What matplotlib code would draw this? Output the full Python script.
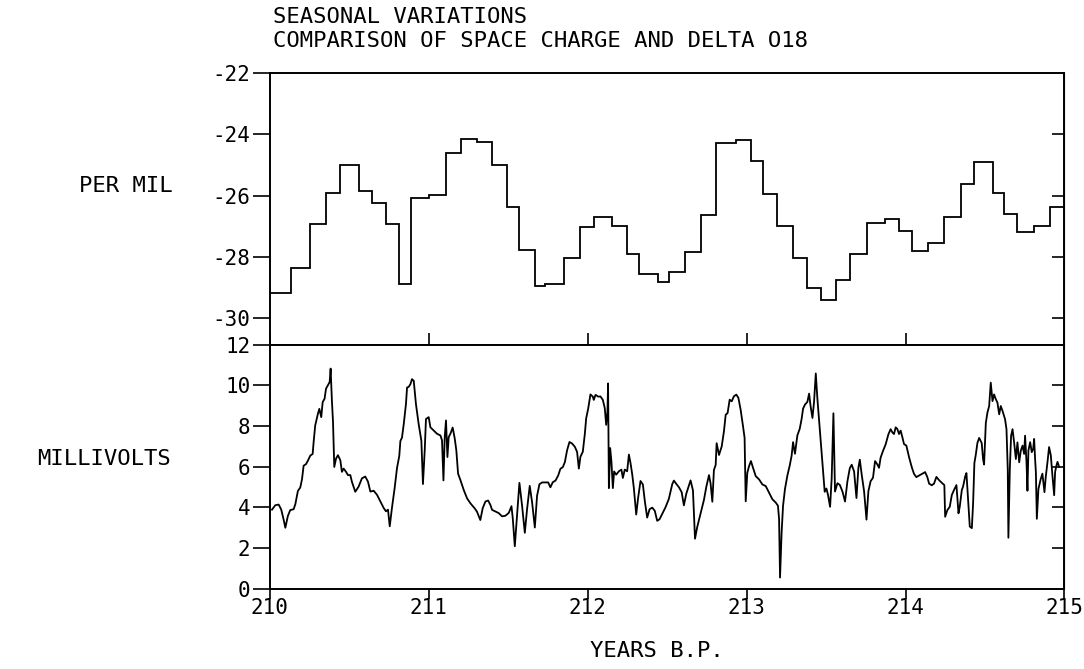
import numpy as np
import matplotlib
matplotlib.use("Agg")
import matplotlib.pyplot as plt

plt.rcParams['font.family'] = ['DejaVu Sans Mono']
plt.rcParams['axes.unicode_minus'] = False

# delta O18 (per mil), step values between sample edges (years B.P.)
delta_edges = [210.00, 210.13, 210.25, 210.35, 210.44, 210.56, 210.64, 210.73, 210.81, 210.89,
               211.00, 211.11, 211.20, 211.30, 211.40, 211.49, 211.57, 211.67, 211.73, 211.85,
               211.95, 212.04, 212.15, 212.25, 212.32, 212.44, 212.51, 212.61, 212.71, 212.81,
               212.93, 213.03, 213.10, 213.19, 213.29, 213.38, 213.47, 213.56, 213.65, 213.76,
               213.87, 213.96, 214.04, 214.14, 214.24, 214.35, 214.43, 214.55, 214.62, 214.70,
               214.81, 214.91, 215.00]
delta_values = [-29.17, -28.36, -26.93, -25.91, -25.01, -25.84, -26.25, -26.93, -28.88, -26.07,
                -25.98, -24.61, -24.14, -24.26, -25.00, -26.38, -27.79, -28.95, -28.87, -28.03,
                -27.04, -26.70, -27.01, -27.91, -28.57, -28.82, -28.49, -27.84, -26.64, -24.30,
                -24.20, -24.88, -25.96, -27.01, -28.05, -29.01, -29.41, -28.77, -27.90, -26.90,
                -26.76, -27.17, -27.80, -27.55, -26.69, -25.62, -24.89, -25.91, -26.61, -27.18,
                -26.98, -26.39]

# space charge (millivolts)
mv_years = [
    210.013, 210.034, 210.055, 210.071, 210.086, 210.097, 210.113, 210.128, 210.149, 210.160,
    210.176, 210.191, 210.202, 210.212, 210.227, 210.239, 210.254, 210.269, 210.275, 210.285,
    210.302, 210.311, 210.323, 210.332, 210.344, 210.353, 210.365, 210.376, 210.382, 210.390,
    210.397, 210.405, 210.416, 210.428, 210.443, 210.453, 210.464, 210.479, 210.491, 210.506,
    210.516, 210.537, 210.558, 210.579, 210.600, 210.617, 210.632, 210.653, 210.674, 210.695,
    210.716, 210.730, 210.743, 210.754, 210.768, 210.785, 210.800, 210.814, 210.821, 210.831,
    210.842, 210.856, 210.863, 210.873, 210.884, 210.894, 210.905, 210.919, 210.936, 210.953,
    210.963, 210.974, 210.982, 210.999, 211.010, 211.031, 211.052, 211.073, 211.083, 211.092,
    211.100, 211.108, 211.117, 211.125, 211.136, 211.150, 211.163, 211.173, 211.184, 211.199,
    211.220, 211.241, 211.262,
    211.289, 211.303, 211.324, 211.339, 211.356, 211.373, 211.387, 211.398, 211.419, 211.440,
    211.461, 211.482, 211.503, 211.520, 211.528, 211.541, 211.555, 211.570, 211.587, 211.604,
    211.618, 211.635, 211.650, 211.667, 211.681, 211.696, 211.713, 211.734, 211.751, 211.765,
    211.780, 211.797, 211.814, 211.828, 211.843, 211.856, 211.870, 211.885, 211.902, 211.919,
    211.933, 211.944, 211.954, 211.969, 211.982, 211.990, 212.003, 212.017, 212.032, 212.038,
    212.049, 212.066, 212.080, 212.095, 212.107, 212.116, 212.124, 212.128, 212.133, 212.141,
    212.149, 212.158, 212.166, 212.179, 212.196, 212.212, 212.221, 212.233, 212.248, 212.259,
    212.269, 212.280, 212.290, 212.305, 212.317, 212.332, 212.347, 212.359, 212.374, 212.389,
    212.406, 212.422, 212.437, 212.452, 212.468, 212.489, 212.510,
    212.532, 212.542, 212.557, 212.574, 212.591, 212.605, 212.620, 212.637, 212.647, 212.662,
    212.675, 212.689, 212.710, 212.731, 212.746, 212.763, 212.773, 212.784, 212.794, 212.805,
    212.811, 212.826, 212.843, 212.857, 212.868, 212.880, 212.893, 212.906, 212.920, 212.935,
    212.948, 212.962, 212.977, 212.987, 212.994, 213.004, 213.015, 213.027, 213.040, 213.057,
    213.078, 213.099, 213.120, 213.141, 213.162, 213.183, 213.197, 213.204, 213.210, 213.220,
    213.229, 213.241, 213.256, 213.271, 213.283, 213.292, 213.304, 213.319, 213.334, 213.346,
    213.355, 213.367, 213.382, 213.393, 213.403, 213.414, 213.424, 213.435, 213.445, 213.460,
    213.477, 213.491, 213.502, 213.512, 213.525, 213.535, 213.546, 213.556, 213.571, 213.586,
    213.603, 213.619, 213.634, 213.649, 213.661, 213.676, 213.691, 213.703, 213.712, 213.724,
    213.739, 213.754,
    213.766, 213.780, 213.795, 213.808, 213.822, 213.833, 213.843, 213.858, 213.875, 213.892,
    213.906, 213.917, 213.927, 213.938, 213.948, 213.959, 213.969, 213.980, 213.990, 214.005,
    214.022, 214.039, 214.053, 214.068, 214.085, 214.106, 214.123, 214.137, 214.148, 214.165,
    214.179, 214.194, 214.211, 214.232, 214.244, 214.249, 214.263, 214.278, 214.291, 214.305,
    214.320, 214.333, 214.341, 214.354, 214.362, 214.375, 214.383, 214.396, 214.404, 214.417,
    214.425, 214.433, 214.442, 214.452, 214.463, 214.479, 214.488, 214.494, 214.505, 214.515,
    214.526, 214.536, 214.547, 214.557, 214.568, 214.578, 214.589, 214.599, 214.610, 214.626,
    214.635, 214.643, 214.647, 214.656, 214.664, 214.673, 214.683, 214.694, 214.704, 214.715,
    214.725, 214.736, 214.746, 214.752, 214.761, 214.767, 214.773, 214.784, 214.794, 214.803,
    214.809, 214.815, 214.820, 214.826, 214.836, 214.851, 214.861, 214.874, 214.882, 214.893,
    214.903, 214.914, 214.924, 214.935, 214.941, 214.950, 214.956, 214.966,
]
mv_values = [
    3.89, 4.11, 4.14, 3.90, 3.41, 3.00, 3.58, 3.87, 3.91, 4.16,
    4.81, 4.98, 5.39, 6.05, 6.13, 6.30, 6.55, 6.63, 7.21, 8.03,
    8.61, 8.85, 8.44, 9.18, 9.35, 9.84, 10.01, 10.17, 10.83, 9.27,
    8.21, 5.99, 6.40, 6.57, 6.32, 5.75, 5.91, 5.75, 5.59, 5.59,
    5.26, 4.77, 5.02, 5.43, 5.52, 5.27, 4.78, 4.82, 4.62, 4.30,
    3.97, 3.81, 3.89, 3.07, 3.98, 4.96, 5.95, 6.53, 7.27, 7.43,
    8.09, 9.08, 9.90, 9.93, 10.06, 10.31, 10.23, 9.08, 8.10, 7.28,
    5.15, 6.79, 8.35, 8.44, 7.94, 7.78, 7.62, 7.54, 7.30, 5.33,
    7.46, 8.28, 6.48, 7.46, 7.63, 7.93, 7.39, 6.81, 5.66, 5.34,
    4.85, 4.44, 4.20,
    3.95, 3.79, 3.38, 3.96, 4.29, 4.34, 4.13, 3.88, 3.80, 3.72,
    3.56, 3.59, 3.73, 4.06, 3.48, 2.09, 3.57, 5.21, 4.07, 2.75,
    3.90, 5.06, 4.24, 3.01, 4.57, 5.14, 5.23, 5.23, 5.23, 4.99,
    5.24, 5.32, 5.57, 5.90, 5.98, 6.23, 6.81, 7.22, 7.14, 6.98,
    6.73, 5.91, 6.49, 6.74, 7.64, 8.38, 8.87, 9.56, 9.45, 9.29,
    9.54, 9.45, 9.46, 9.29, 8.89, 8.06, 8.72, 10.10, 4.95, 6.92,
    6.26, 4.95, 5.77, 5.61, 5.78, 5.86, 5.45, 5.86, 5.78, 6.60,
    6.19, 5.62, 4.96, 3.65, 4.47, 5.30, 5.13, 4.32, 3.50, 3.91,
    3.99, 3.83, 3.34, 3.42, 3.67, 4.00, 4.41,
    5.15, 5.32, 5.16, 4.99, 4.75, 4.10, 4.67, 5.08, 5.33, 4.84,
    2.46, 3.04, 3.70, 4.36, 5.01, 5.59, 5.18, 4.28, 5.84, 6.09,
    7.16, 6.58, 7.00, 7.74, 8.56, 8.64, 9.30, 9.22, 9.47, 9.55,
    9.39, 8.81, 8.00, 7.42, 4.30, 5.70, 6.03, 6.28, 5.95, 5.54,
    5.38, 5.13, 5.05, 4.73, 4.40, 4.24, 4.08, 3.42, 0.55, 2.77,
    4.08, 4.90, 5.56, 6.06, 6.55, 7.21, 6.64, 7.54, 7.87, 8.36,
    8.86, 9.06, 9.19, 9.60, 8.94, 8.40, 9.19, 10.59, 9.36, 7.88,
    6.24, 4.77, 4.93, 4.61, 4.03, 5.43, 8.63, 4.78, 5.19, 5.11,
    4.78, 4.29, 5.28, 5.93, 6.10, 5.77, 4.46, 5.94, 6.35, 5.61,
    4.79, 3.40,
    4.80, 5.29, 5.46, 6.28, 6.12, 5.95, 6.45, 6.78, 7.11, 7.60,
    7.85, 7.69, 7.61, 7.94, 7.86, 7.61, 7.78, 7.45, 7.12, 7.04,
    6.47, 5.98, 5.65, 5.49, 5.57, 5.66, 5.74, 5.49, 5.17, 5.09,
    5.17, 5.50, 5.34, 5.18, 5.10, 3.54, 3.87, 4.03, 4.61, 4.86,
    5.10, 3.71, 4.04, 4.86, 5.03, 5.52, 5.69, 4.05, 3.06, 2.98,
    4.21, 6.18, 6.60, 7.17, 7.42, 7.17, 6.35, 6.11, 8.16, 8.66,
    8.99, 10.14, 9.23, 9.56, 9.32, 9.16, 8.58, 8.99, 8.75, 8.34,
    7.85, 5.88, 2.51, 5.88, 7.52, 7.85, 7.20, 6.38, 7.20, 6.22,
    6.79, 7.04, 6.63, 7.53, 6.22, 4.82, 6.80, 7.21, 6.72, 6.88,
    7.37, 6.39, 5.73, 3.44, 4.91, 5.41, 5.66, 4.75, 5.49, 6.23,
    6.97, 6.56, 5.58, 4.60, 5.75, 6.08, 6.24, 6.00,
]

year_ticks = [210, 211, 212, 213, 214, 215]
delta_ticks = [-30, -28, -26, -24, -22]
mv_ticks = [0, 2, 4, 6, 8, 10, 12]

fig, (ax1, ax2) = plt.subplots(2, 1, sharex=True, figsize=(10.84, 6.69), dpi=100,
                               gridspec_kw={'height_ratios': [272, 244]})
fig.subplots_adjust(left=0.249, right=0.982, top=0.891, bottom=0.120, hspace=0)

lw = 1.3
ax1.stairs(delta_values, delta_edges, baseline=None, color='black', linewidth=lw)
ax2.plot(mv_years, mv_values, color='black', linewidth=lw)

ax1.set_xlim(210, 215)
ax1.set_ylim(-30.87, -22)
ax2.set_ylim(0, 12)

for ax in (ax1, ax2):
    for s in ax.spines.values():
        s.set_linewidth(1.4)

# top panel
ax1.set_yticks(delta_ticks)
ax1.tick_params(axis='y', direction='out', length=12, width=1.2, labelsize=15, pad=2)
ax1.tick_params(axis='x', direction='in', length=9, width=1.2, bottom=True, top=False,
                labelbottom=False)
r1 = ax1.secondary_yaxis('right')
r1.set_yticks(delta_ticks[:-1])
r1.tick_params(direction='in', length=9, width=1.2, labelright=False)

# bottom panel
ax2.set_yticks(mv_ticks)
ax2.tick_params(axis='y', direction='out', length=12, width=1.2, labelsize=15, pad=2)
ax2.set_xticks(year_ticks)
ax2.tick_params(axis='x', direction='out', length=7, width=1.2, labelsize=15, pad=0)
r2 = ax2.secondary_yaxis('right')
r2.set_yticks(mv_ticks[1:-1])
r2.tick_params(direction='in', length=9, width=1.2, labelright=False)

fig.text(273 / 1084, 1 - 17 / 669, 'SEASONAL VARIATIONS', fontsize=16, ha='left', va='center')
fig.text(273 / 1084, 1 - 41 / 669, 'COMPARISON OF SPACE CHARGE AND DELTA O18', fontsize=16,
         ha='left', va='center')
fig.text(173 / 1084, 1 - 186 / 669, 'PER MIL', fontsize=16, ha='right', va='center')
fig.text(171 / 1084, 1 - 459 / 669, 'MILLIVOLTS', fontsize=16, ha='right', va='center')
fig.text(657 / 1084, 1 - 651 / 669, 'YEARS B.P.', fontsize=16, ha='center', va='center')

fig.savefig('out.png', dpi=100, facecolor='white')
